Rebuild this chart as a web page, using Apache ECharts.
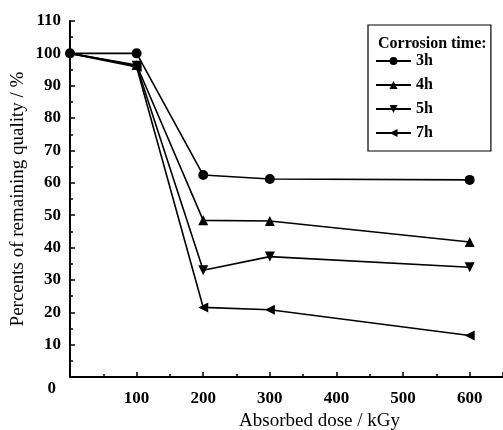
<!DOCTYPE html>
<html>
<head>
<meta charset="utf-8">
<script src="https://cdn.jsdelivr.net/npm/echarts@6/dist/echarts.min.js"></script>
<style>
  html, body { margin: 0; padding: 0; background: #fff; }
  #chart { width: 503px; height: 430px; }
</style>
</head>
<body>
<div id="chart"></div>
<script>
// absorbed dose (kGy)
const doses = [0, 100, 200, 300, 600];
// percent of remaining quality, per corrosion time
const series3h = [100, 100, 62.4, 61.2, 60.9];
const series4h = [100, 96.4, 48.4, 48.2, 41.7];
const series5h = [100, 96.2, 33.0, 37.2, 33.9];
const series7h = [100, 95.8, 21.5, 20.8, 12.8];
const seriesNames = ['3h', '4h', '5h', '7h'];

const font = 'Liberation Serif, Times New Roman, serif';

// the shared start point is drawn only once (by the 3h series)
function pairs(vals, hideFirst) {
  return doses.map((d, i) => {
    if (i === 0 && hideFirst) return { value: [d, vals[i]], symbol: 'none' };
    return [d, vals[i]];
  });
}

function mkSeries(name, vals, symbol, rotate, size, z) {
  return {
    name: name,
    type: 'line',
    z: z,
    data: pairs(vals, name !== '3h'),
    symbol: symbol,
    symbolSize: size,
    symbolRotate: rotate,
    lineStyle: { color: '#000', width: 1.6 },
    itemStyle: { color: '#000' },
    emphasis: { disabled: true },
    animation: false
  };
}

const chart = echarts.init(document.getElementById('chart'));
chart.setOption({
  backgroundColor: '#fff',
  textStyle: { fontFamily: font },
  title: {
    text: 'Corrosion time:',
    left: 373, top: 31,
    textStyle: { fontFamily: font, fontSize: 16, fontWeight: 'bold', color: '#000' }
  },
  legend: {
    data: seriesNames,
    orient: 'vertical',
    left: 368, top: 25,
    padding: [28, 58, 10, 7],
    borderColor: '#000',
    borderWidth: 1.2,
    itemWidth: 35,
    itemHeight: 10,
    itemGap: 8,
    textStyle: { fontFamily: font, fontSize: 16, fontWeight: 'bold', color: '#000', lineHeight: 16 }
  },
  grid: { left: 70, right: 0, top: 21, bottom: 53, containLabel: false, outerBoundsMode: 'none' },
  xAxis: {
    type: 'value',
    min: 0, max: 650, interval: 100,
    name: 'Absorbed dose / kGy',
    nameLocation: 'middle',
    nameGap: 33,
    nameTextStyle: { fontFamily: font, fontSize: 19, color: '#000', padding: [0, 0, 0, 66] },
    axisLine: { lineStyle: { color: '#000', width: 2 } },
    axisTick: { inside: true, length: 5, lineStyle: { color: '#000', width: 1.5 } },
    minorTick: { show: true, splitNumber: 2, length: 3, lineStyle: { color: '#000', width: 1.5 } },
    splitLine: { show: false },
    axisLabel: {
      color: '#000', fontSize: 17, fontWeight: 'bold', fontFamily: font, margin: 13,
      showMaxLabel: false,
      formatter: v => (v === 0 || v > 600) ? '' : String(v)
    }
  },
  yAxis: {
    type: 'value',
    min: 0, max: 110, interval: 10,
    name: 'Percents of remaining quality / %',
    nameLocation: 'middle',
    nameRotate: 90,
    nameGap: 42,
    nameMoveOverlap: false,
    nameTextStyle: { fontFamily: font, fontSize: 19, color: '#000' },
    axisLine: { show: true, lineStyle: { color: '#000', width: 2 } },
    axisTick: { show: true, inside: true, length: 5, lineStyle: { color: '#000', width: 1.5 } },
    minorTick: { show: true, splitNumber: 2, length: 3, lineStyle: { color: '#000', width: 1.5 } },
    splitLine: { show: false },
    axisLabel: {
      color: '#000', fontSize: 17, fontWeight: 'bold', fontFamily: font, margin: 9,
      formatter: v => v === 0 ? '{z|0}' : String(v),
      rich: { z: { fontSize: 17, fontWeight: 'bold', fontFamily: font, color: '#000', padding: [24, 5, 0, 0] } }
    }
  },
  series: [
    mkSeries('3h', series3h, 'circle', 0, 10, 5),
    mkSeries('4h', series4h, 'triangle', 0, 10, 4),
    mkSeries('5h', series5h, 'triangle', 180, 10, 3),
    mkSeries('7h', series7h, 'triangle', 90, 10, 2)
  ]
});
</script>
</body>
</html>
